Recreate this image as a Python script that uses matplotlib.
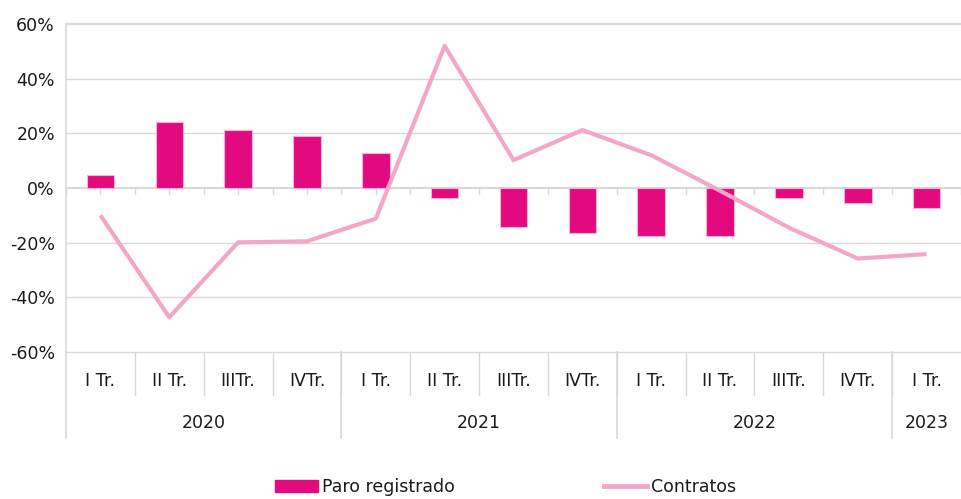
import matplotlib
matplotlib.use("Agg")
import matplotlib.pyplot as plt
from matplotlib.lines import Line2D
from matplotlib.patches import Patch
import matplotlib.transforms as mtransforms

quarters = ["I Tr.", "II Tr.", "IIITr.", "IVTr.",
            "I Tr.", "II Tr.", "IIITr.", "IVTr.",
            "I Tr.", "II Tr.", "IIITr.", "IVTr.",
            "I Tr."]
years = ["2020", "2021", "2022", "2023"]
year_sizes = [4, 4, 4, 1]

paro = [4.6, 24.1, 21.4, 18.9, 12.9, -3.8, -14.1, -16.3, -17.5, -17.5, -3.8, -5.4, -7.4]
contratos = [-10.0, -47.3, -19.9, -19.5, -11.2, 52.0, 10.2, 21.2, 12.0, -1.0, -14.5, -25.8, -24.2]

BAR = "#E3097F"
LINE = "#F4A6C8"
GRID = "#D9D9D9"
TXT = "#1A1A1A"
FS = 12.5

plt.rcParams["font.family"] = ["DejaVu Sans"]

fig = plt.figure(figsize=(9.61, 4.99), dpi=100)
ax = fig.add_axes([66 / 961, 147 / 499, 1 - 66 / 961, 328 / 499])

x = list(range(len(quarters)))
ax.bar(x, paro, width=0.4, color=BAR, edgecolor="#F6B3D3", linewidth=0.8, zorder=3)
ax.plot(x, contratos, color=LINE, lw=3, zorder=4, solid_capstyle="butt")

ax.set_xlim(-0.5, len(quarters) - 0.5)
ax.set_ylim(-60, 60)
ax.set_yticks(range(-60, 61, 20))
ax.set_yticklabels([f"{v}%" for v in range(-60, 61, 20)], fontsize=FS, color=TXT)
ax.tick_params(axis="y", length=0, pad=8)
ax.tick_params(axis="x", length=0, labelbottom=False)
ax.set_xticks([])

for v in range(-60, 61, 20):
    ax.axhline(v, color=GRID, lw=1.6 if v in (0, 60) else 1.0, zorder=1, clip_on=False)

for s in ("top", "right", "bottom"):
    ax.spines[s].set_visible(False)
ax.spines["left"].set_color(GRID)
ax.spines["left"].set_linewidth(1.2)

# small ticks on the zero line (centres and boundaries)
for k in range(len(quarters) * 2 + 1):
    xv = -0.5 + k * 0.5
    ax.plot([xv, xv], [0, -2.3], color=GRID, lw=1, zorder=2, clip_on=False)

trans = mtransforms.blended_transform_factory(ax.transData, ax.transAxes)
h = 328.0
for i, q in enumerate(quarters):
    ax.text(i, -29 / h, q, transform=trans, ha="center", va="center",
            fontsize=FS, color=TXT)
for i in range(1, len(quarters)):
    ax.add_line(Line2D([i - 0.5, i - 0.5], [0, -43 / h], transform=trans,
                       color=GRID, lw=1, clip_on=False))

start = 0
for yr, n in zip(years, year_sizes):
    ax.text(start + n / 2 - 0.5, -71 / h, yr, transform=trans, ha="center",
            va="center", fontsize=FS, color=TXT)
    ax.add_line(Line2D([start - 0.5, start - 0.5], [0, -86 / h], transform=trans,
                       color=GRID, lw=1.2, clip_on=False))
    start += n

handles = [Patch(facecolor=BAR, edgecolor=BAR),
           Line2D([0], [0], color=LINE, lw=3.5)]
fig.legend(handles, ["Paro registrado", "Contratos"], loc="center",
           bbox_to_anchor=(0.526, 12 / 499), ncol=2, frameon=False,
           fontsize=FS, handlelength=2.47, handleheight=0.7, handletextpad=0.23,
           columnspacing=8.6, borderpad=0, labelcolor=TXT)

fig.savefig("out.png", dpi=100)
